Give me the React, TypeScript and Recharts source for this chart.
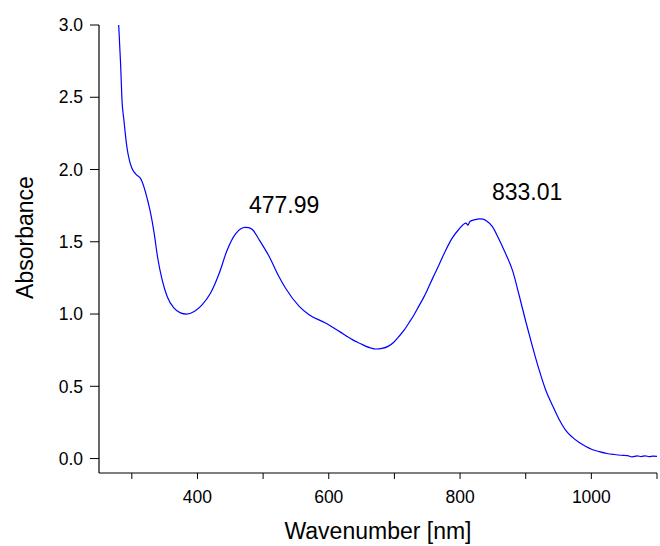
import React from 'react';
import { LineChart, Line, XAxis, YAxis, ReferenceDot } from 'recharts';

const wavelengths = [
  280, 283, 285, 288, 290, 293, 296, 300, 303, 308, 313, 317, 321, 325, 329, 334, 339, 346, 354,
  364, 374, 383, 395, 407, 420, 433, 445, 458, 466, 472, 478, 484, 494, 509, 524, 534, 555, 570,
  595, 616, 636, 646, 656, 664, 672, 681, 691, 699, 707, 715, 722, 730, 737, 744, 750, 758, 768,
  778, 788, 798, 809, 812, 815, 820, 825, 829, 835, 840, 849, 858, 869, 880, 890, 900, 910, 920,
  930, 941, 951, 961, 971, 981, 991, 1001, 1012, 1024, 1035, 1045, 1055, 1062, 1070, 1076, 1082,
  1088, 1094, 1100,
];
const absorbances = [
  3.0, 2.72, 2.48, 2.34, 2.25, 2.14, 2.07, 2.01, 1.985, 1.96, 1.94, 1.9, 1.84, 1.77, 1.69, 1.56,
  1.4, 1.24, 1.12, 1.042, 1.008, 1.0, 1.018, 1.064, 1.145, 1.28, 1.44, 1.555, 1.59, 1.6, 1.598,
  1.583, 1.514, 1.4, 1.26, 1.18, 1.053, 0.995, 0.938, 0.88, 0.823, 0.8, 0.778, 0.765, 0.758, 0.762,
  0.778, 0.805, 0.845, 0.89, 0.938, 0.995, 1.053, 1.11, 1.165, 1.245, 1.341, 1.44, 1.525, 1.585,
  1.629, 1.615, 1.64, 1.65, 1.655, 1.659, 1.657, 1.645, 1.606, 1.53, 1.422, 1.3, 1.13, 0.95,
  0.78, 0.62, 0.48, 0.365, 0.27, 0.195, 0.148, 0.112, 0.085, 0.063, 0.048, 0.035, 0.028, 0.023,
  0.02, 0.012, 0.018, 0.014, 0.019, 0.013, 0.017, 0.015,
];

const xTicks = [300, 400, 500, 600, 700, 800, 900, 1000, 1100];
const xLabeledTicks = [400, 600, 800, 1000];
const yTicks = [0, 0.5, 1.0, 1.5, 2.0, 2.5, 3.0];

const peakLabels = ['477.99', '833.01'];
const peakLabelX = [478.5, 848.6];
const peakLabelY = [1.7, 1.79];

const data = wavelengths.map((w, i) => ({ wavelength: w, absorbance: absorbances[i] }));

const FONT = '"Liberation Sans", Arial, sans-serif';

const XTitle = (props: any) => {
  const vb = props.viewBox;
  return (
    <text x={vb.x + vb.width / 2} y={vb.y + 66} textAnchor="middle" fontSize={23} fontFamily={FONT} fill="#000">
      Wavenumber [nm]
    </text>
  );
};

const YTitle = (props: any) => {
  const vb = props.viewBox;
  const x = 33;
  const y = vb.y + vb.height / 2 - 11.5;
  return (
    <text x={x} y={y} transform={`rotate(-90, ${x}, ${y})`} textAnchor="middle" fontSize={23} fontFamily={FONT} fill="#000">
      Absorbance
    </text>
  );
};

const makePeakLabel = (text: string) => (props: any) => {
  const vb = props.viewBox;
  return (
    <text x={vb.x} y={vb.y} textAnchor="start" fontSize={23} fontFamily={FONT} fill="#000">
      {text}
    </text>
  );
};

export default function App() {
  return (
    <div style={{ position: 'absolute', left: 0, top: 0 }}>
      <LineChart width={660} height={546} data={data} margin={{ top: 25, right: 3, left: 0, bottom: 0 }}>
        <XAxis
          dataKey="wavelength"
          type="number"
          domain={[250, 1100]}
          ticks={xTicks}
          tickFormatter={(v: number) => (xLabeledTicks.includes(v) ? String(v) : '')}
          height={73}
          tickSize={6}
          tickMargin={12}
          stroke="#000"
          tick={{ fill: '#000', fontSize: 17.5, fontFamily: FONT }}
          tickLine={{ stroke: '#000' }}
          axisLine={{ stroke: '#000', strokeWidth: 1.2 }}
          allowDataOverflow
          label={<XTitle />}
        />
        <YAxis
          type="number"
          domain={[-0.1, 3.0]}
          ticks={yTicks}
          tickFormatter={(v: number) => v.toFixed(1)}
          width={99}
          tickSize={9}
          tickMargin={7}
          stroke="#000"
          tick={{ fill: '#000', fontSize: 17.5, fontFamily: FONT }}
          tickLine={{ stroke: '#000' }}
          axisLine={{ stroke: '#000', strokeWidth: 1.2 }}
          allowDataOverflow
          label={<YTitle />}
        />
        <Line
          dataKey="absorbance"
          type="monotone"
          stroke="#0000ff"
          strokeWidth={1.2}
          dot={false}
          isAnimationActive={false}
        />
        {peakLabels.map((t, i) => (
          <ReferenceDot
            key={t}
            x={peakLabelX[i]}
            y={peakLabelY[i]}
            r={0}
            fill="none"
            stroke="none"
            label={makePeakLabel(t)}
          />
        ))}
      </LineChart>
    </div>
  );
}
